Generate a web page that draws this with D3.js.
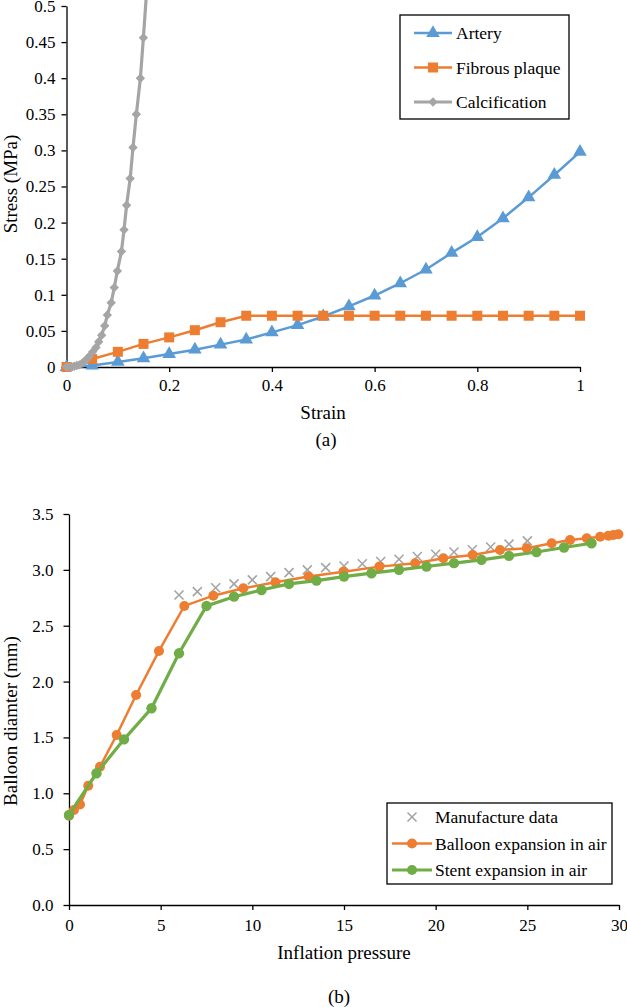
<!DOCTYPE html>
<html>
<head>
<meta charset="utf-8">
<script src="https://cdn.jsdelivr.net/npm/d3@7"></script>
</head>
<body style="margin:0; background:#fff">
<div class="vis"></div>
<script>
// ---- (a) stress / strain ----
const strainSteps = [0, 0.05, 0.1, 0.15, 0.2, 0.25, 0.3, 0.35, 0.4, 0.45, 0.5, 0.55, 0.6, 0.65, 0.7, 0.75, 0.8, 0.85, 0.9, 0.95, 1];
const arteryStress = [0, 0.002, 0.007, 0.012, 0.018, 0.024, 0.031, 0.038, 0.048, 0.058, 0.070, 0.084, 0.099, 0.116, 0.135, 0.158, 0.180, 0.206, 0.235, 0.266, 0.298];
const plaqueStress = [0, 0.011, 0.021, 0.032, 0.041, 0.051, 0.062, 0.071, 0.071, 0.071, 0.071, 0.071, 0.071, 0.071, 0.071, 0.071, 0.071, 0.071, 0.071, 0.071, 0.071];
const calcStrain = [0, 0.005, 0.01, 0.015, 0.02, 0.025, 0.03, 0.035, 0.04, 0.0444, 0.051, 0.0574, 0.0627, 0.0685, 0.0744, 0.0795, 0.087, 0.093, 0.099, 0.107, 0.112, 0.117, 0.124, 0.1295, 0.136, 0.1439, 0.1497, 0.157];
const calcStress = [0, 0, 0.0005, 0.001, 0.002, 0.003, 0.005, 0.008, 0.011, 0.015, 0.021, 0.027, 0.035, 0.044, 0.057, 0.072, 0.089, 0.110, 0.133, 0.160, 0.190, 0.224, 0.261, 0.304, 0.35, 0.400, 0.456, 0.53];
const stressTicks = [0, 0.05, 0.1, 0.15, 0.2, 0.25, 0.3, 0.35, 0.4, 0.45, 0.5];
const strainTicks = [0, 0.2, 0.4, 0.6, 0.8, 1];
const seriesA = ['Artery', 'Fibrous plaque', 'Calcification'];

// ---- (b) balloon diameter / pressure ----
const makerPressure = [6, 7, 8, 9, 10, 11, 12, 13, 14, 15, 16, 17, 18, 19, 20, 21, 22, 23, 24, 25];
const makerDiameter = [2.775, 2.805, 2.84, 2.875, 2.91, 2.94, 2.975, 3.0, 3.02, 3.035, 3.055, 3.075, 3.095, 3.12, 3.14, 3.16, 3.18, 3.205, 3.23, 3.26];
const balloonPressure = [0, 0.27, 0.6, 1.05, 1.69, 2.6, 3.66, 4.91, 6.29, 7.87, 9.51, 11.26, 13.07, 14.97, 16.93, 18.88, 20.42, 22.02, 23.51, 24.97, 26.33, 27.33, 28.24, 28.97, 29.42, 29.7, 29.97];
const balloonDiameter = [0.80, 0.85, 0.90, 1.068, 1.238, 1.522, 1.88, 2.274, 2.677, 2.769, 2.835, 2.889, 2.94, 2.984, 3.029, 3.059, 3.104, 3.133, 3.178, 3.193, 3.238, 3.268, 3.283, 3.297, 3.306, 3.312, 3.318];
const stentPressure = [0, 1.5, 3, 4.5, 6, 7.5, 9, 10.5, 12, 13.5, 15, 16.5, 18, 19.5, 21, 22.5, 24, 25.5, 27, 28.5];
const stentDiameter = [0.806, 1.179, 1.483, 1.761, 2.253, 2.677, 2.76, 2.82, 2.874, 2.904, 2.94, 2.97, 3.0, 3.03, 3.06, 3.09, 3.125, 3.16, 3.20, 3.238];
const diameterTicks = [0, 0.5, 1, 1.5, 2, 2.5, 3, 3.5];
const pressureTicks = [0, 5, 10, 15, 20, 25, 30];
const seriesB = ['Manufacture data', 'Balloon expansion in air', 'Stent expansion in air'];

const blue = '#5b9bd5', orange = '#ed7d31', grey = '#a5a5a5', green = '#70ad47';
const serif = 'Liberation Serif';

const svg = d3.select('.vis').append('svg')
    .attr('width', 627)
    .attr('height', 1007)
    .attr('font-family', serif)
    .style('display', 'block');

const zip = (xs, ys) => xs.map((x, i) => ({x: x, y: ys[i]}));

// markers
const triangle = d3.symbol().type(d3.symbolTriangle).size(80)();
const square = d3.symbol().type(d3.symbolSquare).size(100)();
const diamond = d3.symbol().type(d3.symbolSquare).size(44)();
const cross = 'M-4.5,-4.5L4.5,4.5M4.5,-4.5L-4.5,4.5';

function drawMarkers(g, pts, x, y, path, color, rotate) {
    g.append('g').selectAll('path')
      .data(pts)
      .enter().append('path')
        .attr('d', path)
        .attr('fill', color)
        .attr('transform', d => `translate(${x(d.x)},${y(d.y)})` + (rotate ? ' rotate(45)' : ''));
}

// restyle what d3.axis gives: serif text, black 1.3px lines
function styleAxis(g) {
    g.attr('font-family', serif).attr('font-size', 17);
    g.selectAll('path, line').attr('stroke', '#000').attr('stroke-width', 1.3);
    g.selectAll('text').attr('fill', '#000');
}

function title(g, text, x, y, rotate) {
    return g.append('text')
        .attr('font-family', serif)
        .attr('font-size', 19)
        .attr('fill', '#000')
        .attr('text-anchor', 'middle')
        .attr('transform', `translate(${x},${y})` + (rotate ? ' rotate(-90)' : ''))
        .text(text);
}

// ================= chart (a) =================
const xA = d3.scaleLinear().domain([0, 1]).range([66.5, 580]);
const yA = d3.scaleLinear().domain([0, 0.5]).range([367, 6]);

const gA = svg.append('g');

gA.append('g')
    .attr('transform', `translate(${xA(0)},0)`)
    .call(d3.axisLeft(yA).tickValues(stressTicks).tickSize(5).tickSizeOuter(0).tickPadding(6).tickFormat(d => String(d)))
    .call(styleAxis);

gA.append('g')
    .attr('transform', `translate(0,${yA(0)})`)
    .call(d3.axisBottom(xA).tickValues(strainTicks).tickSize(5).tickSizeOuter(0).tickPadding(7).tickFormat(d => String(d)))
    .call(styleAxis);

svg.append('clipPath').attr('id', 'clipA')
  .append('rect').attr('x', 0).attr('y', 0).attr('width', 627).attr('height', 400);

const lineA = d3.line().x(d => xA(d.x)).y(d => yA(d.y));

const artery = zip(strainSteps, arteryStress);
const plaque = zip(strainSteps, plaqueStress);
const calc = zip(calcStrain, calcStress);

gA.append('path').datum(artery).attr('d', lineA).attr('fill', 'none').attr('stroke', blue).attr('stroke-width', 2.5);
drawMarkers(gA, artery, xA, yA, triangle, blue);
gA.append('path').datum(plaque).attr('d', lineA).attr('fill', 'none').attr('stroke', orange).attr('stroke-width', 2.5);
drawMarkers(gA, plaque, xA, yA, square, orange);
gA.append('path').datum(calc).attr('d', lineA).attr('fill', 'none').attr('stroke', grey).attr('stroke-width', 3.2)
    .attr('clip-path', 'url(#clipA)');
drawMarkers(gA, calc.filter(d => d.y <= 0.5), xA, yA, diamond, grey, true);

title(gA, 'Stress (MPa)', 17, 184, true);
title(gA, 'Strain', 323, 419);
title(gA, '(a)', 326, 446);

// legend (a)
const legA = gA.append('g');
legA.append('rect')
    .attr('x', 400).attr('y', 15).attr('width', 169).attr('height', 104)
    .attr('fill', '#fff').attr('stroke', '#000').attr('stroke-width', 1.3);
const legAColors = [blue, orange, grey];
const legAShapes = [triangle, square, diamond];
seriesA.forEach((name, i) => {
    const ly = 33 + i * 34.5;
    legA.append('line').attr('x1', 414).attr('x2', 452).attr('y1', ly).attr('y2', ly)
        .attr('stroke', legAColors[i]).attr('stroke-width', i === 2 ? 3.2 : 2.5);
    legA.append('path').attr('d', legAShapes[i]).attr('fill', legAColors[i])
        .attr('transform', `translate(433,${ly})` + (i === 2 ? ' rotate(45)' : ''));
    legA.append('text').attr('x', 456).attr('y', ly + 6)
        .attr('font-family', serif).attr('font-size', 17.5).attr('fill', '#000')
        .text(name);
});

// ================= chart (b) =================
const xB = d3.scaleLinear().domain([0, 30]).range([69, 619]);
const yB = d3.scaleLinear().domain([0, 3.5]).range([905, 514]);

const gB = svg.append('g');

gB.append('g')
    .attr('transform', `translate(${xB(0)},0)`)
    .call(d3.axisLeft(yB).tickValues(diameterTicks).tickSize(5.5).tickSizeOuter(0).tickPadding(10).tickFormat(d3.format('.1f')))
    .call(styleAxis);

gB.append('g')
    .attr('transform', `translate(0,${yB(0)})`)
    .call(d3.axisBottom(xB).tickValues(pressureTicks).tickSize(5).tickSizeOuter(0).tickPadding(9).tickFormat(d => String(d)))
    .call(styleAxis);

const lineB = d3.line().x(d => xB(d.x)).y(d => yB(d.y));

const maker = zip(makerPressure, makerDiameter);
const balloon = zip(balloonPressure, balloonDiameter);
const stent = zip(stentPressure, stentDiameter);

gB.append('g').selectAll('path')
    .data(maker)
    .enter().append('path')
      .attr('d', cross)
      .attr('fill', 'none').attr('stroke', grey).attr('stroke-width', 1.6)
      .attr('transform', d => `translate(${xB(d.x)},${yB(d.y)})`);

gB.append('path').datum(balloon).attr('d', lineB).attr('fill', 'none').attr('stroke', orange).attr('stroke-width', 2.5);
gB.append('g').selectAll('circle')
    .data(balloon)
    .enter().append('circle')
      .attr('cx', d => xB(d.x)).attr('cy', d => yB(d.y)).attr('r', 5)
      .attr('fill', orange);

gB.append('path').datum(stent).attr('d', lineB).attr('fill', 'none').attr('stroke', green).attr('stroke-width', 3.2);
gB.append('g').selectAll('circle')
    .data(stent)
    .enter().append('circle')
      .attr('cx', d => xB(d.x)).attr('cy', d => yB(d.y)).attr('r', 5.2)
      .attr('fill', green);

title(gB, 'Balloon diamter (mm)', 17, 721, true);
title(gB, 'Inflation pressure', 344, 959);
title(gB, '(b)', 339, 1003);

// legend (b)
const legB = gB.append('g');
legB.append('rect')
    .attr('x', 387).attr('y', 803).attr('width', 225).attr('height', 81)
    .attr('fill', '#fff').attr('stroke', '#000').attr('stroke-width', 1.3);
seriesB.forEach((name, i) => {
    const ly = 817 + i * 26.5;
    if (i === 0) {
        legB.append('path').attr('d', cross).attr('fill', 'none')
            .attr('stroke', grey).attr('stroke-width', 1.6)
            .attr('transform', `translate(412,${ly})`);
    } else {
        const c = i === 1 ? orange : green;
        legB.append('line').attr('x1', 392).attr('x2', 432).attr('y1', ly).attr('y2', ly)
            .attr('stroke', c).attr('stroke-width', i === 1 ? 2.5 : 3.2);
        legB.append('circle').attr('cx', 412).attr('cy', ly).attr('r', 5).attr('fill', c);
    }
    legB.append('text').attr('x', 435).attr('y', ly + 6)
        .attr('font-family', serif).attr('font-size', 17.5).attr('fill', '#000')
        .text(name);
});
</script>
</body>
</html>
